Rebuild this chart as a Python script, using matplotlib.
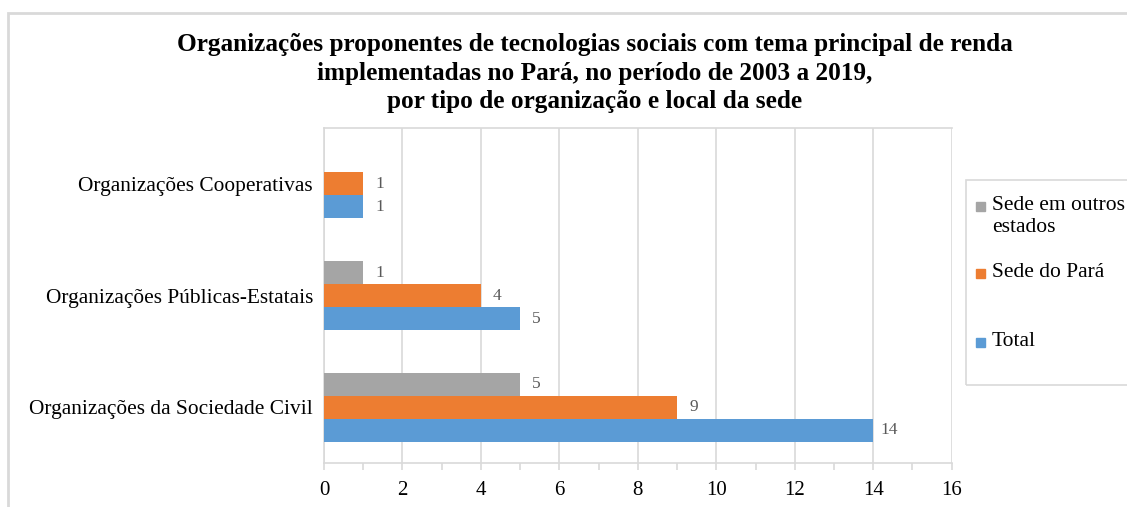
import matplotlib.pyplot as plt
from matplotlib.patches import Rectangle
import numpy as np

plt.rcParams['font.family'] = ['Liberation Serif', 'DejaVu Serif']

categories = ["Organizações da Sociedade Civil",
              "Organizações Públicas-Estatais",
              "Organizações Cooperativas"]
total = [14, 5, 1]
sede_para = [9, 4, 1]
sede_outros = [5, 1, 0]
series_names = ["Total", "Sede do Pará", "Sede em outros\nestados"]
colors = ["#5B9BD5", "#ED7D31", "#A5A5A5"]

W, H = 1127, 507
fig = plt.figure(figsize=(W / 100, H / 100), dpi=100)
ax = fig.add_axes([0.2875, 0.0868, 0.5569, 0.6607])

# outer chart frame
fig.patches.append(Rectangle((0.0075, -0.05), 1.05, 1.0240, transform=fig.transFigure,
                             fill=False, edgecolor="#D9D9D9", linewidth=2, zorder=0))

y = np.arange(len(categories))
h = 0.206
for i, (vals, c) in enumerate(zip([total, sede_para, sede_outros], colors)):
    b = ax.barh(y + (i - 1) * h, vals, height=h, color=c, zorder=3)
    for rect, v in zip(b, vals):
        if v == 0:
            continue
        ax.text(v + 0.42, rect.get_y() + rect.get_height() / 2, str(v),
                va="center", ha="center", fontsize=12.5, color="#595959")

ax.set_xlim(0, 16)
ax.set_ylim(-0.5, 2.5)
ax.set_xticks(range(0, 17, 2))
ax.set_xticks(range(0, 17), minor=True)
ax.tick_params(axis="x", which="both", length=5, color="#D9D9D9", width=1.2,
               labelsize=15, pad=8)
ax.tick_params(axis="y", length=0, labelsize=15.4, pad=8)
ax.set_yticks(y)
ax.set_yticklabels(categories)
ax.grid(axis="x", color="#D9D9D9", linewidth=1.2, zorder=0)
for s in ax.spines.values():
    s.set_color("#D9D9D9")
    s.set_linewidth(1.2)
ax.spines["right"].set_visible(False)

fig.text(595 / W, 1 - 73 / H,
         "Organizações proponentes de tecnologias sociais com tema principal de renda\n"
         "implementadas no Pará, no período de 2003 a 2019,\n"
         "por tipo de organização e local da sede",
         ha="center", va="center", fontsize=18.2, fontweight="bold", linespacing=1.28)

# legend, drawn by hand to follow the uneven spacing of the original
fig.patches.append(Rectangle((966 / W, 1 - 385 / H), 0.2, 205 / H, transform=fig.transFigure,
                             fill=False, edgecolor="#D9D9D9", linewidth=1.2))
legend_rows = [(2, 206), (1, 273), (0, 342)]
for idx, ypx in legend_rows:
    fig.patches.append(Rectangle((976 / W, 1 - (ypx + 4.5) / H), 9 / W, 9 / H,
                                 transform=fig.transFigure, color=colors[idx]))
    fig.text(992 / W, 1 - (ypx - 10) / H, series_names[idx], ha="left", va="top",
             fontsize=15.5, linespacing=1.25)

fig.savefig("out.png", dpi=100)
